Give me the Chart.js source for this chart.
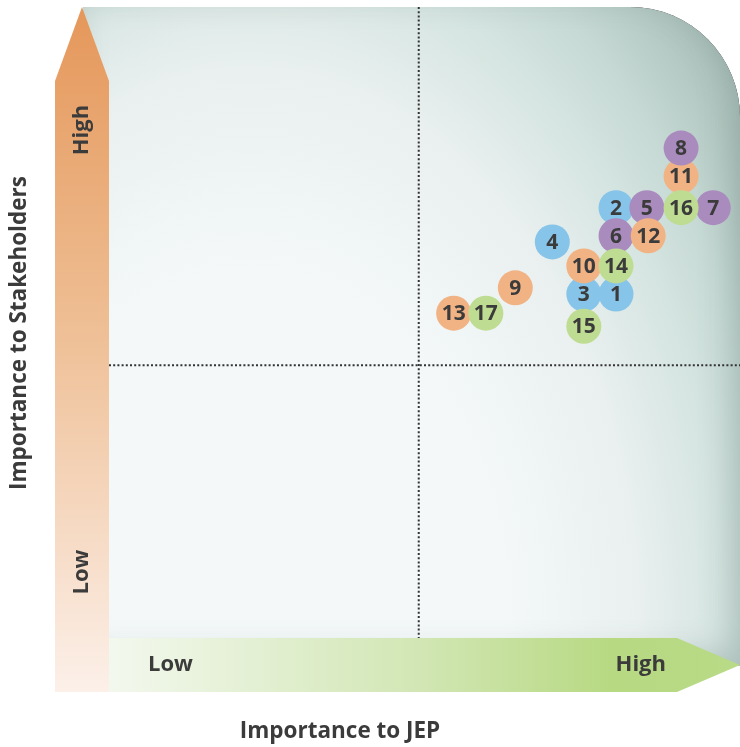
<!DOCTYPE html>
<html>
<head>
<meta charset="utf-8">
<title>Materiality matrix</title>
<script src="https://cdn.jsdelivr.net/npm/chart.js@4.4.1/dist/chart.umd.min.js"></script>
<style>
    html, body { margin: 0; padding: 0; background: #fff; }
    #wrap { width: 740px; height: 747px; }
</style>
</head>
<body>
<div id="wrap"><canvas id="matrix"></canvas></div>
<script>
// topic numbers, in drawing order (later ones sit on top of earlier ones)
var topic_ids = [2, 5, 7, 11, 8, 16, 6, 12, 4, 3, 1, 10, 14, 15, 9, 13, 17];
// importance to JEP (0 - 10)
var jep_scores = [8.19, 8.64, 9.61, 9.14, 9.14, 9.14, 8.19, 8.66, 7.26, 7.72, 8.19, 7.72, 8.19, 7.72, 6.72, 5.82, 6.29];
// importance to stakeholders (0 - 10)
var stakeholder_scores = [7.07, 7.07, 7.07, 7.53, 7.94, 7.07, 6.66, 6.66, 6.57, 5.81, 5.81, 6.22, 6.22, 5.34, 5.90, 5.53, 5.53];
// topic group of each bubble (index into group_colors)
var topic_groups = [0, 1, 1, 2, 1, 3, 1, 2, 0, 0, 0, 2, 3, 3, 2, 2, 3];
var group_colors = ['#86c4e9', '#a98bbe', '#f1b384', '#bfdd92'];

// quadrant split
var quadrant_x = 5.31;
var quadrant_y = 4.77;

var level_labels = ['Low', 'High'];
var x_title = 'Importance to JEP';
var y_title = 'Importance to Stakeholders';

var textColor = '#3b3b3b';
var fontFamily = '"Open Sans", "DejaVu Sans", sans-serif';

function panelPath(ctx, l, t, r, b, rad) {
    ctx.moveTo(l, t);
    ctx.lineTo(r - rad, t);
    ctx.arcTo(r, t, r, t + rad, rad);
    ctx.lineTo(r, b);
    ctx.lineTo(l, b);
    ctx.closePath();
}

//-------------------
//- BACKGROUND      -
//-------------------
var matrixBackground = {
    id: 'matrixBackground',
    beforeDatasetsDraw: function (chart) {
        var ctx = chart.ctx;
        var a = chart.chartArea;
        var xs = chart.scales.x;
        var ys = chart.scales.y;
        var w = 54; // arrow thickness

        // shaded panel with rounded top right corner
        var pl = a.left + 28, pt = a.top, pr = a.right, pb = a.bottom - 26;
        ctx.save();
        ctx.beginPath();
        panelPath(ctx, pl, pt, pr, pb, 110);
        ctx.clip();
        ctx.fillStyle = '#f4f8f9';
        ctx.fillRect(pl, pt, pr - pl, pb - pt);

        ctx.save();
        ctx.translate(a.left + 195, a.top + 633);
        ctx.scale(0.683, 1);
        var g = ctx.createRadialGradient(0, 0, 0, 0, 0, 984);
        g.addColorStop(0, '#f4f8f9');
        g.addColorStop(0.375, '#f4f8f9');
        g.addColorStop(0.58, '#e9f0ef');
        g.addColorStop(0.71, '#d4e4e0');
        g.addColorStop(0.79, '#c6d9d4');
        g.addColorStop(0.875, '#b3c8c2');
        g.addColorStop(1, '#9fb4ae');
        ctx.fillStyle = g;
        ctx.fillRect(-2000, -2000, 4000, 4000);
        ctx.restore();

        // soft inner shade, mostly along the right edge
        ctx.beginPath();
        ctx.rect(pl - 300, pt - 300, pr - pl + 600, pb - pt + 600);
        panelPath(ctx, pl, pt, pr, pb, 110);
        ctx.shadowColor = 'rgba(95, 122, 114, 0.32)';
        ctx.shadowBlur = 32;
        ctx.shadowOffsetX = -8;
        ctx.shadowOffsetY = -12;
        ctx.fillStyle = '#000';
        ctx.fill('evenodd');
        ctx.restore();

        // dotted quadrant lines
        var qx = xs.getPixelForValue(quadrant_x);
        var qy = ys.getPixelForValue(quadrant_y);
        ctx.save();
        ctx.strokeStyle = '#333333';
        ctx.lineWidth = 2;
        ctx.setLineDash([2, 2.2]);
        ctx.beginPath();
        ctx.moveTo(qx, a.top);
        ctx.lineTo(qx, a.bottom - w);
        ctx.stroke();
        ctx.beginPath();
        ctx.moveTo(a.left + w, qy);
        ctx.lineTo(a.right, qy);
        ctx.stroke();
        ctx.restore();

        // vertical arrow (stakeholders)
        ctx.save();
        var gv = ctx.createLinearGradient(0, a.top, 0, a.bottom);
        gv.addColorStop(0, '#e5975a');
        gv.addColorStop(0.45, '#eebd92');
        gv.addColorStop(1, '#fcf0e9');
        ctx.fillStyle = gv;
        ctx.beginPath();
        ctx.moveTo(a.left + w / 2, a.top);
        ctx.lineTo(a.left + w, a.top + 74);
        ctx.lineTo(a.left + w, a.bottom);
        ctx.lineTo(a.left, a.bottom);
        ctx.lineTo(a.left, a.top + 74);
        ctx.closePath();
        ctx.fill();

        // horizontal arrow (JEP)
        var gh = ctx.createLinearGradient(a.left + w, 0, a.right, 0);
        gh.addColorStop(0, '#f3f8ee');
        gh.addColorStop(0.5, '#d1e6b3');
        gh.addColorStop(0.8, '#b7d982');
        gh.addColorStop(1, '#b9da86');
        ctx.fillStyle = gh;
        ctx.beginPath();
        ctx.moveTo(a.left + w, a.bottom - w);
        ctx.lineTo(a.right - 63, a.bottom - w);
        ctx.lineTo(a.right, a.bottom - w / 2);
        ctx.lineTo(a.right - 63, a.bottom);
        ctx.lineTo(a.left + w, a.bottom);
        ctx.closePath();
        ctx.fill();

        // Low / High on the arrows
        ctx.fillStyle = textColor;
        ctx.font = 'bold 22px ' + fontFamily;
        ctx.textBaseline = 'middle';
        ctx.textAlign = 'left';
        ctx.fillText(level_labels[0], a.left + 93, a.bottom - w / 2);
        ctx.textAlign = 'right';
        ctx.fillText(level_labels[1], a.right - 74, a.bottom - w / 2);

        ctx.textAlign = 'center';
        ctx.translate(a.left + w / 2, 0);
        ctx.rotate(-Math.PI / 2);
        ctx.fillText(level_labels[1], -(a.top + 123), 0);
        ctx.fillText(level_labels[0], -(a.top + 565), 0);
        ctx.restore();
    },
    afterDatasetsDraw: function (chart) {
        var ctx = chart.ctx;
        var meta = chart.getDatasetMeta(0);
        ctx.save();
        ctx.fillStyle = textColor;
        ctx.font = 'bold 21px ' + fontFamily;
        ctx.textAlign = 'center';
        ctx.textBaseline = 'middle';
        meta.data.forEach(function (pt, i) {
            ctx.fillText(String(topic_ids[i]), pt.x, pt.y + 1);
        });
        ctx.restore();
    },
    afterDraw: function (chart) {
        var ctx = chart.ctx;
        var a = chart.chartArea;
        ctx.save();
        ctx.fillStyle = textColor;
        ctx.font = 'bold 22.5px ' + fontFamily;
        ctx.textAlign = 'center';
        ctx.textBaseline = 'middle';
        ctx.fillText(x_title, a.left + 285, a.bottom + 40);
        ctx.translate(20, a.top + 326);
        ctx.rotate(-Math.PI / 2);
        ctx.fillText(y_title, 0, 0);
        ctx.restore();
    }
};

var points = topic_ids.map(function (id, i) {
    return { x: jep_scores[i], y: stakeholder_scores[i] };
});

var matrixCanvas = document.getElementById('matrix').getContext('2d');

new Chart(matrixCanvas, {
    type: 'scatter',
    data: {
        datasets: [{
            data: points,
            pointRadius: 17.5,
            pointBorderWidth: 0,
            pointBackgroundColor: topic_groups.map(g => group_colors[g]),
            pointBorderColor: 'rgba(0,0,0,0)'
        }]
    },
    options: {
        responsive: true,
        maintainAspectRatio: false,
        animation: false,
        events: [],
        layout: {
            autoPadding: false,
            padding: { left: 55, top: 7, right: 0, bottom: 55 }
        },
        plugins: {
            legend: { display: false },
            tooltip: { enabled: false }
        },
        scales: {
            x: { type: 'linear', min: 0, max: 10, display: false },
            y: { type: 'linear', min: 0, max: 10, display: false }
        }
    },
    plugins: [matrixBackground]
});
</script>
</body>
</html>
